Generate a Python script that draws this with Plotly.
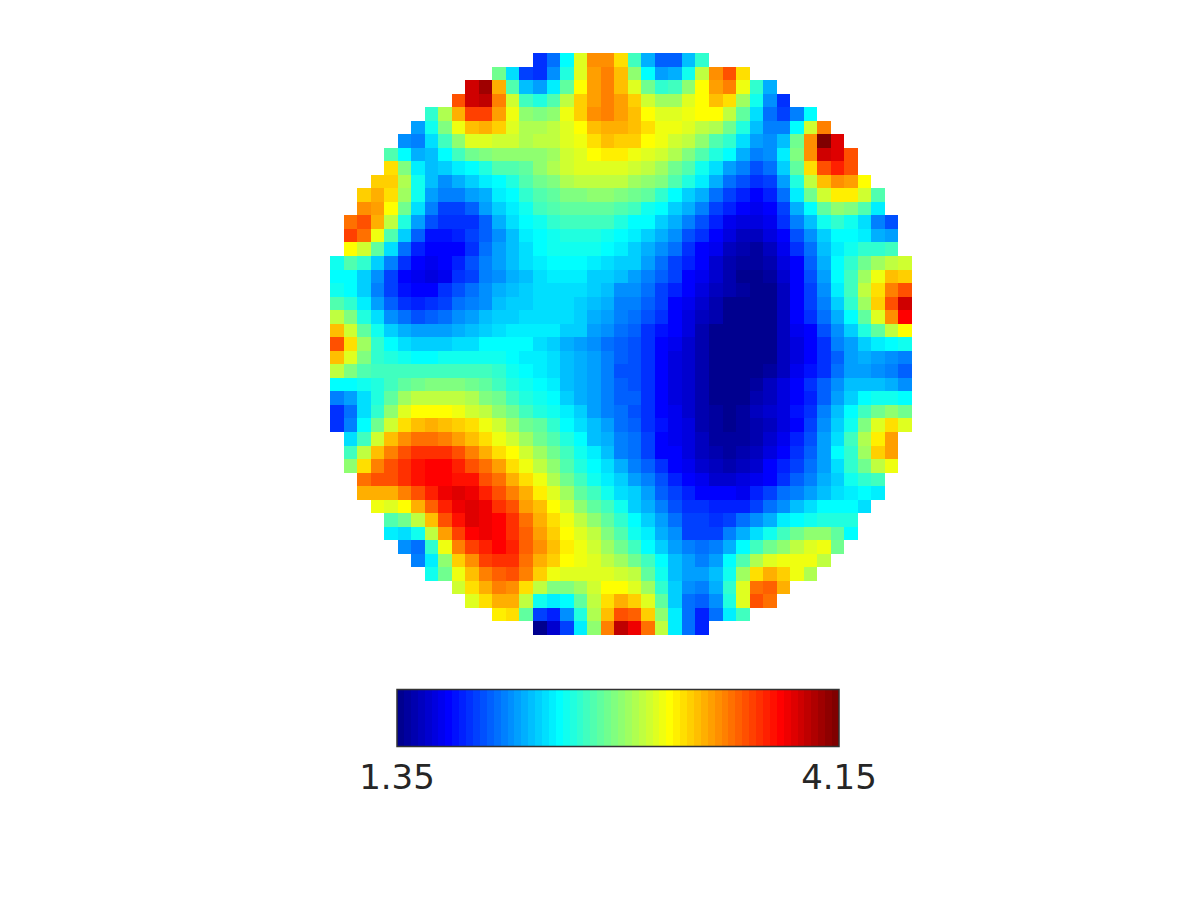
import numpy as np
from plotly import graph_objects as go

# each row holds the colour step (0-63), only the cells inside the disc
# rows are centred, so the blank corners are padded below
disc_rows = [
    [10,14,23,37,46,46,41,27,18,13,13,19,26],
    [30,21,11,10,16,25,37,45,47,43,32,23,17,18,24,35,46,50,41],
    [58,61,44,28,19,17,22,29,39,45,47,43,37,30,26,27,32,39,45,47,38,26,18],
    [50,58,59,47,36,27,25,28,35,42,45,47,45,42,36,33,33,37,39,43,41,33,24,16,10],
    [26,34,44,51,51,45,38,32,31,32,38,42,46,47,45,43,39,37,37,38,39,39,35,29,21,14,11,15,23],
    [17,24,31,38,43,44,42,37,34,34,35,37,39,43,44,44,43,41,38,38,37,35,34,30,25,19,15,15,23,36,47],
    [16,15,21,27,32,37,37,36,36,34,35,35,37,38,41,43,42,42,39,38,36,35,32,28,26,21,17,16,19,30,46,63,57],
    [28,23,18,19,23,27,30,31,32,32,32,32,33,36,37,39,40,40,38,37,36,34,31,28,25,23,18,15,16,22,31,46,58,57,50],
    [41,31,22,19,20,22,23,25,28,28,29,32,34,36,37,37,37,37,36,35,33,30,28,24,21,17,15,12,14,20,29,41,50,53,50],
    [42,42,34,24,19,16,18,20,22,23,25,28,30,31,34,35,35,35,35,33,32,31,28,25,22,18,14,12,10,11,17,25,35,43,46,45,39],
    [42,44,41,33,24,17,15,15,17,18,22,23,26,28,29,31,31,32,32,31,30,29,26,23,20,18,14,11,9,7,9,14,22,30,36,40,40,36,28],
    [46,45,39,30,21,15,11,11,13,17,20,22,24,27,28,29,29,29,29,28,27,24,23,20,18,15,11,9,7,6,7,11,18,23,29,32,31,28,22],
    [48,50,44,35,25,17,12,10,10,10,13,18,21,23,24,26,27,27,27,27,25,23,23,20,18,15,12,9,6,5,5,6,10,15,19,24,26,24,21,15,12],
    [51,48,38,28,20,13,8,8,9,11,13,16,19,22,23,24,25,25,25,24,23,22,20,18,16,12,10,7,5,3,3,5,7,12,16,20,23,23,22,18,17],
    [39,36,29,21,14,9,7,7,7,10,14,17,19,21,23,24,24,24,24,23,22,20,18,16,14,10,7,6,3,2,1,3,6,10,14,19,22,24,26,26,27],
    [24,28,26,20,15,10,7,6,7,9,12,15,17,19,21,22,23,23,23,22,21,20,20,17,14,11,9,7,4,2,1,1,2,5,7,13,18,23,26,30,33,35,36],
    [23,23,20,16,11,7,6,5,6,10,11,15,16,18,19,21,22,22,22,20,20,19,17,15,13,11,7,6,4,2,0,0,1,4,7,12,17,23,27,33,38,43,42],
    [24,23,20,15,11,8,7,7,10,12,14,16,18,19,20,21,21,21,21,20,19,16,16,14,11,9,7,5,3,2,1,0,0,3,7,11,16,22,27,35,41,47,50],
    [28,26,22,17,13,10,9,10,11,14,15,16,19,20,20,21,21,21,20,19,18,15,15,13,11,7,6,4,2,0,0,0,0,3,7,11,15,20,26,33,42,50,58],
    [35,31,25,21,16,14,12,13,14,16,17,19,20,20,21,21,21,21,20,18,17,15,14,12,10,7,5,3,2,0,0,0,0,3,7,10,14,18,23,29,37,46,55],
    [43,36,29,24,20,18,17,17,17,18,19,20,21,22,22,22,22,20,20,17,16,14,13,10,8,7,5,2,0,0,0,0,0,3,6,7,12,16,20,25,29,35,39],
    [50,41,33,26,23,21,20,20,20,21,21,23,23,23,23,21,20,18,17,16,14,13,12,10,7,6,4,2,0,0,0,0,0,3,5,7,10,15,17,20,22,23,24],
    [43,37,31,26,25,24,23,23,24,24,24,24,24,23,22,22,21,19,18,17,15,13,12,10,7,5,4,2,0,0,0,0,0,3,5,7,10,13,17,18,17,16,15],
    [35,31,28,27,27,27,27,27,27,27,27,27,26,24,23,22,21,19,18,17,15,12,12,10,7,5,4,2,0,0,0,0,1,3,6,8,10,14,17,17,16,15,13],
    [23,23,24,25,27,29,30,31,31,31,30,29,27,25,24,23,22,19,18,17,15,13,12,10,7,5,4,2,0,0,0,1,3,5,7,10,13,16,19,19,19,18,16],
    [15,17,21,25,29,33,35,35,35,35,34,31,30,27,25,24,23,20,18,17,15,13,13,10,7,5,4,2,0,0,0,2,3,5,7,9,13,17,20,23,24,24,23],
    [10,14,21,26,32,37,39,39,39,38,36,35,32,30,27,25,24,22,20,17,15,14,12,10,7,6,4,2,1,0,1,3,4,5,8,10,15,19,23,27,30,32,30],
    [10,15,23,30,36,41,43,44,43,42,41,38,36,33,30,29,26,23,21,19,17,14,13,10,8,6,5,2,1,0,1,2,3,5,7,11,16,20,24,31,37,41,37],
    [21,27,36,43,46,48,48,47,45,43,41,38,36,33,30,28,25,23,19,18,15,14,11,7,6,5,3,1,1,1,2,4,6,9,12,17,21,27,34,40,45],
    [27,35,43,47,50,52,52,52,50,47,44,41,39,36,33,30,27,24,22,19,15,14,11,7,7,5,3,2,1,2,3,5,7,10,13,17,23,26,33,42,45],
    [32,41,47,50,52,54,55,55,53,50,48,45,41,38,35,32,28,25,23,21,18,15,13,10,7,6,4,3,2,3,4,7,9,11,14,17,21,26,30,35,38],
    [48,50,50,52,54,55,55,54,54,50,48,44,41,38,34,30,27,24,22,20,17,15,12,9,7,6,4,4,5,6,7,10,13,15,18,20,24,26,27],
    [44,44,44,47,50,53,56,57,56,53,50,47,44,40,37,33,29,27,24,21,20,17,13,11,9,7,7,7,6,9,11,14,15,17,19,21,22,23,22],
    [38,37,39,44,49,53,56,57,56,52,50,45,43,39,36,32,29,27,24,20,18,15,12,10,10,9,9,9,11,14,16,19,21,23,23,23,21],
    [28,30,35,43,50,54,57,56,55,52,48,44,41,38,35,32,29,26,23,20,17,14,11,11,10,11,14,16,18,22,23,24,25,25,25],
    [22,21,24,35,45,51,55,56,55,52,49,45,42,39,37,35,31,28,24,22,18,16,11,11,11,15,18,21,24,27,30,32,32,29,23],
    [16,14,26,38,47,51,53,55,53,49,46,43,40,38,36,33,30,27,23,20,17,15,14,15,18,23,27,30,32,35,37,38,30],
    [15,22,32,42,46,51,52,52,48,44,42,39,38,37,35,33,30,27,23,19,17,15,17,23,28,34,37,38,38,38,35],
    [24,30,38,43,47,49,50,47,42,38,37,37,37,37,36,35,29,24,19,17,17,19,24,33,41,44,42,38,34],
    [36,41,44,47,46,41,35,31,31,33,36,39,39,37,33,26,20,16,15,18,26,37,48,49,44],
    [37,41,44,44,35,24,22,23,29,35,41,44,42,37,29,20,14,13,16,25,37,50,48],
    [40,41,29,11,9,16,25,34,43,50,49,42,32,22,14,9,14,22,27],
    [0,4,11,22,32,47,59,56,48,35,22,14,9],
]

value_min = 1.35
value_max = 4.15
tick_labels = ["1.35", "4.15"]
n_steps = 64
n_cells = 43


def pad_row(row):
    assert len(row) % 2 == 1 and len(row) <= n_cells
    blank = (n_cells - len(row)) // 2
    return [np.nan] * blank + row + [np.nan] * blank


def jet_scale():
    # stepped jet, same 64 colours as the reference bar
    scale = []
    for i in range(n_steps):
        t = (i + 1) / n_steps
        r = np.clip(min(4 * t - 1.5, -4 * t + 4.5), 0, 1)
        g = np.clip(min(4 * t - 0.5, -4 * t + 3.5), 0, 1)
        b = np.clip(min(4 * t + 0.5, -4 * t + 2.5), 0, 1)
        color = f"rgb({round(r * 255)},{round(g * 255)},{round(b * 255)})"
        scale.append([i / n_steps, color])
        scale.append([(i + 1) / n_steps, color])
    return scale


steps = np.array([pad_row(row) for row in disc_rows], dtype=float)
z = value_min + (steps + 0.5) * (value_max - value_min) / n_steps

# the page body has an 8px margin, so the figure is 16px smaller and everything shifts by 8
fig = go.Figure(go.Heatmap(
    z=z,
    zmin=value_min,
    zmax=value_max,
    colorscale=jet_scale(),
    hoverongaps=False,
    colorbar=dict(
        orientation="h",
        x=(618 - 330) / 582,
        xanchor="center",
        y=(635 - 788) / 582,
        yanchor="bottom",
        lenmode="pixels",
        len=442,
        thicknessmode="pixels",
        thickness=57,
        xpad=0,
        ypad=0,
        outlinecolor="#333333",
        outlinewidth=1.5,
        tickmode="array",
        tickvals=[value_min, value_max],
        ticktext=tick_labels,
        ticks="",
        tickfont=dict(family="DejaVu Sans", size=34, color="#262626"),
    ),
))

fig.update_layout(
    width=1184,
    height=884,
    margin=dict(l=322, r=280, t=45, b=257, autoexpand=False),
    paper_bgcolor="white",
    plot_bgcolor="white",
    xaxis=dict(visible=False, range=[-0.5, 42.5]),
    yaxis=dict(visible=False, range=[42.5, -0.5]),
)

fig.write_html("out.html")
